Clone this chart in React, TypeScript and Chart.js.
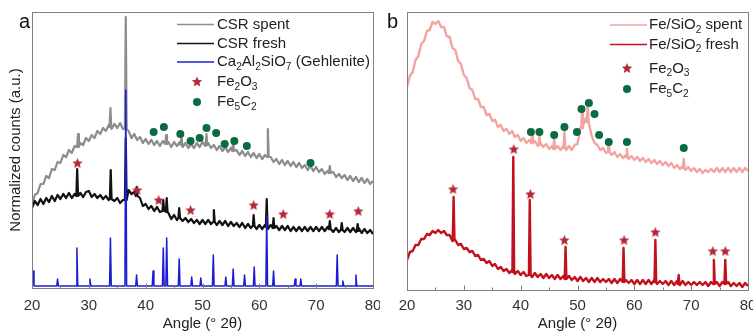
import React, { useEffect, useRef } from 'react';
import { Chart, registerables } from 'chart.js';
Chart.register(...registerables);

const FONT = '"Liberation Sans", Arial, Helvetica, sans-serif';
Chart.defaults.font.family = FONT;

// ---------- data (x = 20 + i*0.5 degrees 2θ; y = arbitrary intensity units) ----------
const ANGLE_START = 20;
const ANGLE_STEP = 0.5;
const MAJOR_TICKS = [20, 30, 40, 50, 60, 70, 80];
const MINOR_TICKS = [25, 35, 45, 55, 65, 75];

// Panel a: CSR spent (grey)
const csrSpent = [
  84, 93, 95, 104, 104, 112, 110, 119, 118, 126, 125, 133, 131, 138, 135, 142, 140, 145, 143, 150,
  147, 153, 150, 157, 154, 160, 157, 163, 159, 164, 160, 165, 159, 158, 157, 150, 154, 148, 151, 145,
  149, 144, 148, 143, 147, 142, 147, 142, 146, 141, 146, 142, 146, 141, 145, 140, 144, 140, 145, 141,
  146, 142, 145, 140, 143, 138, 142, 137, 141, 136, 140, 135, 138, 133, 137, 132, 136, 131, 135, 130,
  134, 129, 133, 128, 131, 126, 129, 124, 128, 123, 127, 122, 126, 121, 125, 120, 123, 118, 122, 117,
  121, 116, 119, 114, 117, 113, 116, 111, 114, 110, 113, 108, 112, 107, 111, 106, 110, 105, 109, 104,
  107,
];
const csrSpentPeaks = [
  [28.1, 154, 141], [33.8, 180, 161], [36.5, 271, 159], [43.6, 153, 144], [46.3, 151, 143],
  [50.7, 154, 143], [55.4, 146, 137], [61.5, 159, 131], [72.4, 122, 115],
];

// Panel a: CSR fresh (black)
const csrFresh = [
  80, 87, 83, 89, 84, 90, 86, 92, 87, 93, 89, 94, 90, 95, 90, 94, 91, 95, 91, 96,
  97, 91, 94, 90, 93, 89, 92, 88, 91, 87, 90, 85, 88, 92, 98, 94, 96, 88, 90, 82,
  84, 79, 82, 77, 81, 76, 79, 77, 75, 69, 73, 68, 72, 67, 70, 66, 69, 65, 68, 64,
  68, 64, 68, 64, 68, 63, 67, 63, 67, 62, 66, 62, 65, 61, 65, 60, 64, 60, 64, 59,
  63, 59, 63, 59, 63, 58, 62, 58, 62, 58, 62, 57, 61, 57, 61, 57, 61, 57, 61, 57,
  61, 57, 61, 57, 61, 60, 56, 60, 56, 61, 56, 60, 56, 60, 56, 60, 55, 59, 55, 58,
  54,
];
const csrFreshPeaks = [
  [27.95, 119, 92], [33.85, 118, 89], [36.5, 150, 88], [38.4, 101, 92], [43.1, 88, 77],
  [43.7, 90, 76], [45.9, 80, 70], [52.0, 78, 66], [59.0, 73, 62], [61.3, 89, 61],
  [62.5, 70, 60], [72.4, 67, 59], [74.5, 65, 58], [77.3, 64, 57],
];

// Panel a: Ca2Al2SiO7 reference pattern (blue)
const gehleniteBase = 2;
const gehlenitePeakAngles = [
  20.2, 24.5, 27.9, 30.2, 33.8, 36.5, 38.4, 41.3, 43.1, 43.7, 45.9, 48.1, 49.7,
  51.9, 54.1, 55.4, 57.4, 59.1, 61.3, 62.5, 66.3, 67.3, 73.7, 74.7, 77.0,
];
const gehlenitePeakHeights = [
  17, 9, 40, 9, 50, 198, 13, 17, 40, 50, 29, 11, 10,
  33, 11, 19, 13, 21, 72, 17, 9, 9, 33, 7, 13,
];

// Panel a markers
const fe2o3AAngles = [28.0, 38.5, 42.3, 47.9, 59.0, 64.2, 72.4, 77.4];
const fe2o3AHeights = [125, 98, 88, 78, 83, 74, 74, 77];
const fe5c2AAngles = [41.4, 43.2, 46.1, 47.9, 49.5, 50.7, 52.4, 53.9, 55.6, 57.8, 69.0];
const fe5c2AHeights = [156, 161, 154, 147, 150, 160, 155, 144, 147, 142, 125];

// Panel b: Fe/SiO2 spent (pink)
const feSpent = [
  203, 214, 218, 230, 234, 246, 249, 259, 260, 268, 266, 269, 263, 263, 254, 253, 242, 240, 229, 226,
  215, 212, 202, 200, 191, 191, 183, 183, 175, 176, 169, 170, 163, 165, 159, 161, 156, 159, 153, 155,
  149, 152, 147, 150, 146, 149, 144, 147, 143, 146, 141, 144, 140, 144, 140, 144, 140, 144, 140, 145,
  146, 162, 165, 172, 168, 154, 147, 145, 140, 142, 137, 140, 135, 138, 133, 136, 132, 135, 131, 134,
  130, 133, 129, 132, 128, 131, 127, 130, 126, 129, 125, 128, 124, 127, 122, 125, 121, 124, 120, 123,
  119, 122, 118, 121, 117, 120, 118, 121, 118, 122, 118, 122, 118, 122, 118, 122, 118, 122, 118, 122,
  119,
];
const feSpentPeaks = [
  [42.0, 156, 147], [43.3, 154, 145], [45.9, 152, 141], [47.7, 158, 142], [50.8, 178, 162],
  [51.8, 185, 168], [55.5, 148, 138], [58.7, 141, 133], [68.7, 131, 122],
];

// Panel b: Fe/SiO2 fresh (dark red)
const feFresh = [
  30, 38, 39, 45, 45, 51, 51, 56, 55, 59, 57, 60, 57, 59, 55, 55, 49, 50, 45, 46,
  41, 42, 38, 39, 34, 35, 30, 31, 27, 29, 24, 26, 21, 23, 19, 21, 17, 20, 16, 19,
  15, 18, 14, 17, 13, 17, 13, 16, 12, 16, 12, 15, 11, 15, 11, 14, 10, 14, 10, 13,
  9, 13, 9, 12, 8, 12, 8, 12, 8, 11, 8, 11, 7, 11, 7, 11, 7, 10, 7, 10,
  6, 10, 6, 10, 6, 10, 6, 10, 6, 9, 6, 9, 5, 9, 5, 9, 5, 9, 5, 8,
  5, 8, 5, 8, 5, 8, 4, 8, 4, 8, 4, 8, 4, 8, 4, 7, 4, 7, 3, 7,
  4,
];
const feFreshPeaks = [
  [28.2, 93, 50], [38.7, 133, 18], [41.6, 90, 15], [47.9, 43, 11], [58.1, 42, 8],
  [63.7, 50, 8], [67.8, 15, 6], [74.0, 30, 6], [76.0, 30, 6],
];

// Panel b markers
const fe2o3BAngles = [28.1, 38.8, 41.7, 47.7, 58.2, 63.7, 73.8, 76.0];
const fe2o3BHeights = [101, 141, 96, 50, 50, 58, 39, 39];
const fe5c2BAngles = [41.8, 43.3, 45.9, 47.7, 49.9, 50.7, 52.0, 53.0, 53.8, 55.5, 58.7, 68.7];
const fe5c2BHeights = [158, 158, 155, 163, 158, 181, 187, 176, 155, 148, 148, 142];

// ---------- styling ----------
const C = {
  grey: '#8c8c8c',
  black: '#111111',
  blue: '#1c1cd4',
  pink: '#f4a3a3',
  darkRed: '#c2101c',
  star: '#b3283b',
  green: '#0b6b40',
  frame: '#808080',
  text: '#222222',
};
const PEAK_HALF = 0.15;

function buildSeries(values: number[], peaks: number[][]) {
  const pts: { x: number; y: number }[] = [];
  values.forEach((v, i) => {
    const x = ANGLE_START + i * ANGLE_STEP;
    if (!peaks.some((p) => Math.abs(p[0] - x) < PEAK_HALF + 0.01)) pts.push({ x, y: v });
  });
  peaks.forEach(([a, top, foot]) => {
    pts.push({ x: a - PEAK_HALF, y: foot }, { x: a, y: top }, { x: a + PEAK_HALF, y: foot });
  });
  pts.sort((p, q) => p.x - q.x);
  return pts;
}

function buildStickPattern(base: number, angles: number[], heights: number[]) {
  const pts: { x: number; y: number }[] = [{ x: 20, y: base }];
  angles.forEach((a, i) => {
    pts.push({ x: a - PEAK_HALF, y: base }, { x: a, y: heights[i] }, { x: a + PEAK_HALF, y: base });
  });
  pts.push({ x: 80, y: base });
  return pts;
}

function zipPts(xs: number[], ys: number[]) {
  return xs.map((x, i) => ({ x, y: ys[i] }));
}

function drawStar(ctx: CanvasRenderingContext2D, cx: number, cy: number, r: number, color: string) {
  ctx.beginPath();
  for (let i = 0; i < 10; i++) {
    const rad = i % 2 === 0 ? r : r * 0.45;
    const ang = -Math.PI / 2 + (i * Math.PI) / 5;
    const px = cx + rad * Math.cos(ang);
    const py = cy + rad * Math.sin(ang);
    if (i === 0) ctx.moveTo(px, py);
    else ctx.lineTo(px, py);
  }
  ctx.closePath();
  ctx.fillStyle = color;
  ctx.fill();
}

function starImage(color: string, r: number) {
  const size = Math.ceil(r * 2 + 2);
  const c = document.createElement('canvas');
  c.width = size;
  c.height = size;
  const ctx = c.getContext('2d')!;
  drawStar(ctx, size / 2, size / 2 + 0.5, r, color);
  return c;
}

function drawRich(ctx: CanvasRenderingContext2D, text: string, x: number, y: number, size: number, color: string) {
  const parts = text.split(/(_\d)/);
  let cx = x;
  ctx.fillStyle = color;
  ctx.textBaseline = 'middle';
  ctx.textAlign = 'left';
  for (const p of parts) {
    if (!p) continue;
    if (p.startsWith('_')) {
      ctx.font = `${size * 0.68}px ${FONT}`;
      ctx.fillText(p.slice(1), cx, y + size * 0.32);
      cx += ctx.measureText(p.slice(1)).width;
    } else {
      ctx.font = `${size}px ${FONT}`;
      ctx.fillText(p, cx, y);
      cx += ctx.measureText(p).width;
    }
  }
}

type LegendItem = { kind: 'line' | 'star' | 'circle'; color: string; label: string; y: number; width?: number };
type PanelCfg = {
  letter: string;
  letterX: number;
  yTitle?: string;
  yTitleX?: number;
  legendLineX0: number;
  legendLineX1: number;
  legendMarkerX: number;
  legendTextX: number;
  legend: LegendItem[];
};

function decorPlugin(cfg: PanelCfg) {
  return {
    id: 'decor',
    afterDraw(chart: any) {
      const { ctx, chartArea: ca, scales } = chart;
      const xs = scales.x;
      ctx.save();
      // frame
      ctx.strokeStyle = C.frame;
      ctx.lineWidth = 1;
      ctx.strokeRect(Math.round(ca.left) + 0.5, Math.round(ca.top) + 0.5, Math.round(ca.right - ca.left), Math.round(ca.bottom - ca.top));
      // ticks (inward)
      const bottom = Math.round(ca.bottom) + 0.5;
      ctx.beginPath();
      MAJOR_TICKS.forEach((v) => {
        const px = Math.round(xs.getPixelForValue(v)) + 0.5;
        ctx.moveTo(px, bottom);
        ctx.lineTo(px, bottom - 5);
      });
      MINOR_TICKS.forEach((v) => {
        const px = Math.round(xs.getPixelForValue(v)) + 0.5;
        ctx.moveTo(px, bottom);
        ctx.lineTo(px, bottom - 3);
      });
      ctx.stroke();
      // x title
      ctx.fillStyle = C.text;
      ctx.font = `15px ${FONT}`;
      ctx.textAlign = 'center';
      ctx.textBaseline = 'middle';
      ctx.fillText('Angle (° 2θ)', (ca.left + ca.right) / 2, 324);
      // y title
      if (cfg.yTitle) {
        ctx.save();
        ctx.translate(cfg.yTitleX!, (ca.top + ca.bottom) / 2);
        ctx.rotate(-Math.PI / 2);
        ctx.fillText(cfg.yTitle, 0, 0);
        ctx.restore();
      }
      // panel letter
      ctx.font = `20px ${FONT}`;
      ctx.textAlign = 'left';
      ctx.textBaseline = 'alphabetic';
      ctx.fillStyle = '#111';
      ctx.fillText(cfg.letter, cfg.letterX, 28);
      // legend
      cfg.legend.forEach((it) => {
        if (it.kind === 'line') {
          ctx.strokeStyle = it.color;
          ctx.lineWidth = it.width ?? 1.6;
          ctx.beginPath();
          ctx.moveTo(cfg.legendLineX0, it.y);
          ctx.lineTo(cfg.legendLineX1, it.y);
          ctx.stroke();
        } else if (it.kind === 'star') {
          drawStar(ctx, cfg.legendMarkerX, it.y, 5.5, it.color);
        } else {
          ctx.beginPath();
          ctx.arc(cfg.legendMarkerX, it.y, 4, 0, Math.PI * 2);
          ctx.fillStyle = it.color;
          ctx.fill();
        }
        drawRich(ctx, it.label, cfg.legendTextX, it.y, 15, C.text);
      });
      ctx.restore();
    },
  };
}

function makeChart(canvas: HTMLCanvasElement, datasets: any[], yMax: number, padding: any, xHeight: number, tickPad: number, cfg: PanelCfg) {
  return new Chart(canvas, {
    type: 'line',
    data: { datasets },
    options: {
      responsive: false,
      animation: false,
      events: [],
      layout: { padding },
      plugins: { legend: { display: false }, tooltip: { enabled: false } },
      elements: { line: { tension: 0, borderJoinStyle: 'round' }, point: { radius: 0 } },
      scales: {
        x: {
          type: 'linear',
          min: 20,
          max: 80,
          grid: { display: false, drawTicks: false },
          border: { display: false },
          ticks: { stepSize: 10, autoSkip: false, color: '#333', font: { size: 15 }, padding: tickPad, maxRotation: 0 },
          afterFit: (s: any) => {
            s.height = xHeight;
            s.paddingLeft = 0;
            s.paddingRight = 0;
          },
        },
        y: { display: false, min: 0, max: yMax },
      },
    },
    plugins: [decorPlugin(cfg)],
  } as any);
}

export default function App() {
  const refA = useRef<HTMLCanvasElement>(null);
  const refB = useRef<HTMLCanvasElement>(null);

  useEffect(() => {
    const star = starImage(C.star, 5.5);
    const line = (data: any, color: string, w: number, order: number) => ({
      type: 'line', data, borderColor: color, borderWidth: w, pointRadius: 0, fill: false, order,
    });
    const markers = (data: any, style: any, color: string, r: number) => ({
      type: 'scatter', data, pointStyle: style, pointRadius: r, backgroundColor: color, borderColor: color, borderWidth: 0, order: 0, showLine: false,
    });

    const chartA = makeChart(
      refA.current!,
      [
        markers(zipPts(fe2o3AAngles, fe2o3AHeights), star, C.star, 5.5),
        markers(zipPts(fe5c2AAngles, fe5c2AHeights), 'circle', C.green, 4),
        line(buildStickPattern(gehleniteBase, gehlenitePeakAngles, gehlenitePeakHeights), C.blue, 1.5, 1),
        line(buildSeries(csrFresh, csrFreshPeaks), C.black, 2.2, 2),
        line(buildSeries(csrSpent, csrSpentPeaks), C.grey, 2.2, 3),
      ],
      276,
      { left: 32, right: 7, top: 12, bottom: 0 },
      44,
      9,
      {
        letter: 'a',
        letterX: 19,
        yTitle: 'Normalized counts (a.u.)',
        yTitleX: 16,
        legendLineX0: 177,
        legendLineX1: 214,
        legendMarkerX: 197,
        legendTextX: 217,
        legend: [
          { kind: 'line', color: C.grey, label: 'CSR spent', y: 24.5 },
          { kind: 'line', color: C.black, label: 'CSR fresh', y: 43.5 },
          { kind: 'line', color: C.blue, label: 'Ca_2Al_2SiO_7 (Gehlenite)', y: 62 },
          { kind: 'star', color: C.star, label: 'Fe_2O_3', y: 82 },
          { kind: 'circle', color: C.green, label: 'Fe_5C_2', y: 102 },
        ],
      }
    );

    const chartB = makeChart(
      refB.current!,
      [
        markers(zipPts(fe2o3BAngles, fe2o3BHeights), star, C.star, 5.5),
        markers(zipPts(fe5c2BAngles, fe5c2BHeights), 'circle', C.green, 4),
        line(buildSeries(feFresh, feFreshPeaks), C.darkRed, 2.4, 2),
        line(buildSeries(feSpent, feSpentPeaks), C.pink, 2.4, 3),
      ],
      278,
      { left: 27, right: 12, top: 12, bottom: 0 },
      42,
      7,
      {
        letter: 'b',
        letterX: 7,
        legendLineX0: 230,
        legendLineX1: 267,
        legendMarkerX: 247,
        legendTextX: 269,
        legend: [
          { kind: 'line', color: C.pink, label: 'Fe/SiO_2 spent', y: 25 },
          { kind: 'line', color: C.darkRed, label: 'Fe/SiO_2 fresh', y: 44.5 },
          { kind: 'star', color: C.star, label: 'Fe_2O_3', y: 68.5 },
          { kind: 'circle', color: C.green, label: 'Fe_5C_2', y: 89 },
        ],
      }
    );

    return () => {
      chartA.destroy();
      chartB.destroy();
    };
  }, []);

  return (
    <div style={{ position: 'fixed', left: 0, top: 0, width: 753, height: 332, overflow: 'hidden', background: '#fff' }}>
      <canvas ref={refA} width={380} height={332} style={{ position: 'absolute', left: 0, top: 0 }} />
      <canvas ref={refB} width={380} height={332} style={{ position: 'absolute', left: 380, top: 0 }} />
    </div>
  );
}
